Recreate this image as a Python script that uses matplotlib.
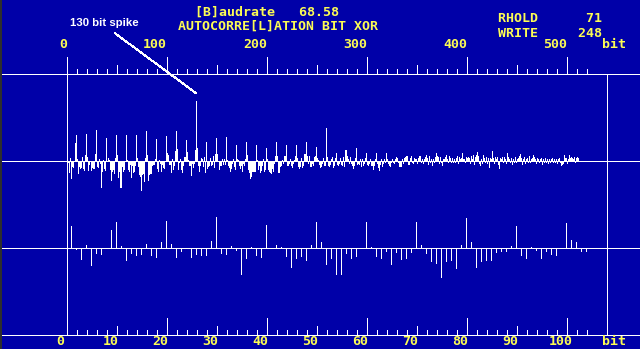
import matplotlib
matplotlib.use("Agg")
import matplotlib.pyplot as plt
from matplotlib.transforms import blended_transform_factory as blend
import numpy as np

# ---------------- data ----------------
# autocorrelation (bit XOR), lags 0..104 (shown in both panels)
acf_near = [
    0,
    22, -2, -12, 3, -18, -6, -7, 0, 18, 26,
    2, -13, -6, -8, -7, 4, -8, -10, 6, 27,
    4, -10, -4, 0, -10, -7, -8, -8, 7, 31,
    -6, -7, 2, -3, -27, -11, 1, -8, -10, 23,
    0, 3, 1, -9, -20, -11, -9, -13, 3, 26,
    6, -17, -11, -27, -27, -6, -11, -9, 0, 26,
    1, -9, -11, -4, -17, -5, -12, -11, -5, 26,
    3, -6, -14, -16, -30, -14, -13, -21, 3, 30,
    6, -20, -14, -13, -13, -5, -4, -4, 2, 22,
    -8, -11, 1, -3, -11, -4, -7, -8, 0, 25,
    8, 6, -4, -4,
]
# lags 105..512
acf_far = [
    -12, 2, -9, -5, 10, 30,
    12, -9, -2, 2, -9, -12, -5, 4, 4, 21,
    9, 1, -5, -5, -15, -3, -7, -3, 11, 60,
    13, -5, -11, -5, 3, 2, -6, 4, -12, 19,
    -8, -6, -5, 3, -5, -4, 5, -7, 7, 23,
    7, -1, -9, -5, -5, 2, -4, 2, -4, 24,
    1, -5, -7, -11, -8, -3, 2, -6, -9, 16,
    2, 1, -5, -8, -5, -11, -3, -5, 2, 19,
    6, -9, -12, -18, -16, -11, -11, -11, -11, 16,
    1, -9, -5, -12, -10, -5, 2, -11, -9, 13,
    2, -9, -11, -12, -13, -8, -11, -3, 5, 19,
    5, -12, -12, -6, -5, 1, -3, 5, 5, 16,
    -5, -5, -3, 2, -5, -7, -3, 1, 5, 16,
    3, -6, -8, -6, 3, -7, -5, 7, 7, 19,
    5, -3, 5, -6, -6, -3, -5, 4, 5, 14,
    3, 1, -4, -7, -6, -3, 3, -5, -5, 33,
    4, -5, -6, -4, 2, 4, -7, -5, 3, 8,
    -4, -5, -3, 3, -4, -5, 4, -6, 11, 11,
    5, 2, -3, 4, -3, -5, -8, -5, 3, 13,
    -4, -3, -4, 2, -6, 2, -5, -3, 3, 8,
    -4, -5, -3, 2, -5, -5, -9, -5, 2, 8,
    -3, -7, -10, -4, 2, -6, -3, 2, -2, 8,
    2, -3, -5, -6, -2, 2, -2, -3, 2, 4,
    3, -2, -6, -6, -6, 2, -3, 3, 4, 5,
    5, -4, -4, 3, 5, -2, -3, 3, 2, 2,
    -3, 3, 5, 5, -2, 2, -3, 2, 4, 6,
    3, -4, 5, -2, 2, -5, 2, -2, 4, 8,
    5, 4, -3, 4, -2, -5, 2, 2, 4, 6,
    2, -2, 5, 3, -2, 3, -2, 2, -2, 3,
    5, -3, 4, 2, 3, 8, 2, 2, -2, 4,
    3, 4, 3, -3, 5, 2, 6, -4, 4, 6,
    9, 5, -3, -5, 2, -3, 6, 3, -2, 4,
    -3, 3, -7, 3, 2, 10, 3, -3, 4, 2,
    4, -4, -8, 3, 2, 4, -2, 4, 2, -3,
    8, 4, 2, -2, 3, -4, 2, -2, 4, -2,
    2, 3, 5, 7, 3, -4, 2, 4, -3, 2,
    3, -2, 5, -2, 2, 3, 6, 4, 2, -3,
    3, 2, -2, 2, 3, -4, 2, -2, 3, -2,
    2, -3, 2, -2, 2, 3, -2, 2, -2, 2,
    -3, 2, 3, -2, -5, -4, -3, 6, 3, 3,
    -3, 2, 6, 3, 4, 3, 2, 4, -2, 3,
    4, 3,
]
top_tick_values = [0, 100, 200, 300, 400, 500]
bottom_tick_values = [0, 10, 20, 30, 40, 50, 60, 70, 80, 90, 100]
unit_label = "bit"
header_line1 = "[B]audrate   68.58"
header_line2 = "AUTOCORRE[L]ATION BIT XOR"
status_names = ["RHOLD", "WRITE"]
status_values = [71, 248]
spike_lag = 130
spike_text = "130 bit spike"

# ---------------- layout ----------------
W, H = 640, 349
BG = "#0000A8"
YEL = "#FCFC54"
WHITE = "#FFFFFF"
X0 = 66.5          # pixel column of lag 0
TOP_PX_PER_BIT = 1.0
BOT_PX_PER_BIT = 5.0
MID_BASE = 160.5
BOT_BASE = 247.5
RULER_Y = 73.5
AXIS_Y = 334.5
RIGHT_X = 606.5
LW = 72.0 / 100.0  # 1 pixel

acf = np.array(acf_near + acf_far, dtype=float)
lags = np.arange(len(acf))
near = np.array(acf_near, dtype=float)
near_lags = np.arange(len(near))

fig = plt.figure(figsize=(W / 100, H / 100), dpi=100)
fig.patch.set_facecolor(BG)

def full_axes(label):
    ax = fig.add_axes([0, 0, 1, 1], label=label)
    ax.set_axis_off()
    ax.patch.set_alpha(0)
    return ax

# pixel layout axes (y from top)
axp = full_axes("px")
axp.set_xlim(0, W)
axp.set_ylim(H, 0)

# middle panel: 1 px per bit
axm = full_axes("mid")
axm.set_xlim(-X0 / TOP_PX_PER_BIT, (W - X0) / TOP_PX_PER_BIT)
axm.set_ylim(-(H - MID_BASE), MID_BASE)

# bottom panel: 5 px per bit
axb = full_axes("bot")
axb.set_xlim(-X0 / BOT_PX_PER_BIT, (W - X0) / BOT_PX_PER_BIT)
axb.set_ylim(-(H - BOT_BASE), BOT_BASE)

tm = blend(axm.transData, axp.transData)
tb = blend(axb.transData, axp.transData)

# left dark frame strip
axp.axvspan(0, 2, color="#2e2e2e", lw=0)

# horizontal lines
for y in (RULER_Y, MID_BASE, BOT_BASE, AXIS_Y):
    axp.hlines(y, 2, W, colors=WHITE, lw=LW, antialiased=False)
# vertical lines
axp.vlines(X0, 57, AXIS_Y + 0.5, colors=WHITE, lw=LW, antialiased=False)
axp.vlines(RIGHT_X, RULER_Y, AXIS_Y + 0.5, colors=WHITE, lw=LW, antialiased=False)

# top ruler ticks (bits)
tb_minor = np.arange(10, 530, 10)
axp.vlines(tb_minor, 69, RULER_Y, colors=WHITE, lw=LW, antialiased=False, transform=tm)
axp.vlines(np.arange(50, 530, 50), 65, RULER_Y, colors=WHITE, lw=LW, antialiased=False, transform=tm)
axp.vlines(np.arange(100, 530, 100), 57, RULER_Y, colors=WHITE, lw=LW, antialiased=False, transform=tm)

# bottom ruler ticks
axp.vlines(np.arange(2, 106, 2), 330, AXIS_Y, colors=WHITE, lw=LW, antialiased=False, transform=tb)
axp.vlines(np.arange(10, 106, 10), 326, AXIS_Y, colors=WHITE, lw=LW, antialiased=False, transform=tb)
axp.vlines(np.arange(20, 106, 20), 318, AXIS_Y, colors=WHITE, lw=LW, antialiased=False, transform=tb)

# bars
axm.bar(lags[1:], acf[1:], width=1.0 / TOP_PX_PER_BIT, color=WHITE, linewidth=0, antialiased=False)
axb.bar(near_lags[1:], near[1:], width=1.0 / BOT_PX_PER_BIT, color=WHITE, linewidth=0, antialiased=False)

# fonts
mono = dict(family="DejaVu Sans Mono", weight="bold", fontsize=9.5, color=YEL)

# scale labels
for v in top_tick_values:
    axp.text(v + 0.5, 48.3, str(v), ha="right", va="baseline", transform=tm, **mono)
axp.text(601.7, 48.3, unit_label, ha="left", va="baseline", **mono)
for v in bottom_tick_values:
    axp.text(v - 6 / BOT_PX_PER_BIT, 345, str(v), ha="center", va="baseline", transform=tb, **mono)
axp.text(601.7, 345, unit_label, ha="left", va="baseline", **mono)

# header
axp.text(195, 16, header_line1, ha="left", va="baseline", **mono)
axp.text(177.7, 30, header_line2, ha="left", va="baseline", **mono)
axp.text(497.7, 21.7, f"{status_names[0]}{status_values[0]:>8}", ha="left", va="baseline", **mono)
axp.text(497.7, 36.7, f"{status_names[1]}{status_values[1]:>8}", ha="left", va="baseline", **mono)

# spike annotation
axp.text(70.5, 26, spike_text, ha="left", va="baseline", color=WHITE,
         family="Liberation Sans", weight="bold", fontsize=8.2)
spike_val = acf[spike_lag]
axm.annotate("", xy=(spike_lag, spike_val + 7), xycoords="data",
             xytext=(115, 33.3), textcoords=axp.transData,
             arrowprops=dict(arrowstyle="-", color=WHITE, lw=LW,
                             shrinkA=0, shrinkB=0, antialiased=False))

fig.savefig("out.png", dpi=100, facecolor=fig.get_facecolor())
